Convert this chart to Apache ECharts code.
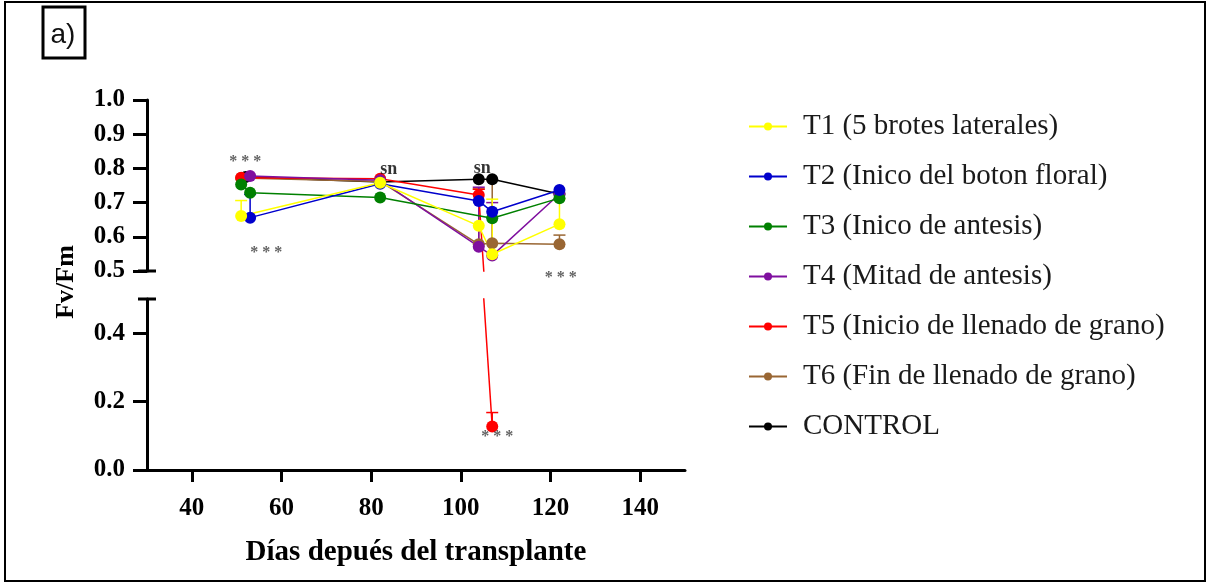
<!DOCTYPE html>
<html>
<head>
<meta charset="utf-8">
<script src="https://cdn.jsdelivr.net/npm/echarts@6/dist/echarts.min.js"></script>
<style>
  html, body { margin: 0; padding: 0; background: #fff; }
  #chart { width: 1209px; height: 585px; }
</style>
</head>
<body>
<div id="chart"></div>
<script>
// Axis ticks
const dayTicks = [40, 60, 80, 100, 120, 140];
const upperTicks = [0.5, 0.6, 0.7, 0.8, 0.9, 1.0];
const lowerTicks = [0, 0.2, 0.4];

// Treatments (legend order)
const names = [
  'T1 (5 brotes laterales)',
  'T2 (Inico del boton floral)',
  'T3 (Inico de antesis)',
  'T4 (Mitad de antesis)',
  'T5 (Inicio de llenado de grano)',
  'T6 (Fin de llenado de grano)',
  'CONTROL'
];
const colors = ['#ffff00', '#0000cc', '#008000', '#7f0f9f', '#ff0000', '#996633', '#000000'];

// Fv/Fm per treatment: measurement day and mean value
const t1Days = [51, 82, 104, 107, 122];
const t1Values = [0.661, 0.758, 0.632, 0.549, 0.637];
const t2Days = [53, 82, 104, 107, 122];
const t2Values = [0.656, 0.755, 0.705, 0.673, 0.737];
const t3Days = [51, 53, 82, 107, 122];
const t3Values = [0.753, 0.729, 0.715, 0.654, 0.713];
const t4Days = [53, 82, 104, 107, 122];
const t4Values = [0.778, 0.765, 0.571, 0.545, 0.725];
const t5Days = [51, 82, 104, 107];
const t5Values = [0.773, 0.770, 0.722, 0.127];
const t6Days = [51, 82, 104, 107, 122];
const t6Values = [0.772, 0.762, 0.578, 0.581, 0.578];
const ctrlDays = [52, 82, 104, 107, 122];
const ctrlValues = [0.775, 0.760, 0.768, 0.768, 0.725];

// Upper end of the error bars (day, top value)
const t1ErrDays = [51, 107, 122];
const t1ErrTops = [0.706, 0.710, 0.710];
const t2ErrDays = [53];
const t2ErrTops = [0.724];
const t4ErrDays = [104, 107];
const t4ErrTops = [0.745, 0.700];
const t5ErrDays = [104, 107];
const t5ErrTops = [0.739, 0.168];
const t6ErrDays = [104, 107, 122];
const t6ErrTops = [0.740, 0.765, 0.605];

// Significance labels: day, value, text
const noteDays = [51.9, 56.6, 83.9, 104.8, 122.3];
const noteValues = [0.819, 0.552, 0.798, 0.800, 0.479];
const noteTexts = ['* * *', '* * *', 'sn', 'sn', '* * *'];
const lowNoteDays = [108.1];
const lowNoteValues = [0.096];
const lowNoteTexts = ['* * *'];

const dayLists = [t1Days, t2Days, t3Days, t4Days, t5Days, t6Days, ctrlDays];
const valueLists = [t1Values, t2Values, t3Values, t4Values, t5Values, t6Values, ctrlValues];
const errDayLists = [t1ErrDays, t2ErrDays, [], t4ErrDays, t5ErrDays, t6ErrDays, []];
const errTopLists = [t1ErrTops, t2ErrTops, [], t4ErrTops, t5ErrTops, t6ErrTops, []];

const SERIF = '"Liberation Serif", "Times New Roman", serif';

function pairs(xs, ys) { return xs.map((x, i) => [x, ys[i]]); }

function errorBars(i, gridIdx) {
  const data = errDayLists[i].map((d, k) => [d, valueLists[i][dayLists[i].indexOf(d)], errTopLists[i][k]]);
  return {
    type: 'custom',
    name: 'err' + i + '_' + gridIdx,
    xAxisIndex: gridIdx, yAxisIndex: gridIdx,
    clip: true,
    z: 2,
    data: data,
    renderItem: function (params, api) {
      const p0 = api.coord([api.value(0), api.value(1)]);
      const p1 = api.coord([api.value(0), api.value(2)]);
      const st = { stroke: colors[i], lineWidth: 1.5 };
      return {
        type: 'group',
        children: [
          { type: 'line', shape: { x1: p0[0], y1: p0[1], x2: p1[0], y2: p1[1] }, style: st },
          { type: 'line', shape: { x1: p1[0] - 6, y1: p1[1], x2: p1[0] + 6, y2: p1[1] }, style: st }
        ]
      };
    }
  };
}

function lineSeries(i, gridIdx) {
  return {
    type: 'line',
    name: names[i],
    xAxisIndex: gridIdx, yAxisIndex: gridIdx,
    data: pairs(dayLists[i], valueLists[i]),
    symbol: 'circle',
    symbolSize: 12,
    showAllSymbol: true,
    clip: true,
    z: 3,
    color: colors[i],
    lineStyle: { width: 1.5, color: colors[i] },
    itemStyle: { color: colors[i] },
    emphasis: { disabled: true },
    animation: false
  };
}

const series = [];
// Draw CONTROL first so T1 ends on top
for (let i = names.length - 1; i >= 0; i--) {
  if (errDayLists[i].length) series.push(errorBars(i, 0));
}
for (let i = names.length - 1; i >= 0; i--) {
  series.push(lineSeries(i, 0));
}
// T5 drops below the axis break: repeat it on the lower panel
series.push(errorBars(4, 1));
series.push(lineSeries(4, 1));

function notes(xs, ys, texts, gridIdx) {
  return {
    type: 'scatter',
    name: 'notes' + gridIdx,
    xAxisIndex: gridIdx, yAxisIndex: gridIdx,
    clip: false,
    symbolSize: 0,
    z: 5,
    silent: true,
    data: xs.map((x, k) => ({ value: [x, ys[k]], label: { formatter: texts[k] } })),
    label: {
      show: true, position: 'inside',
      fontFamily: SERIF, fontSize: 16, fontWeight: 'bold', color: '#3a3a3a'
    }
  };
}
const upperNotes = notes(noteDays, noteValues, noteTexts, 0);
upperNotes.data.forEach(d => {
  if (d.label.formatter === 'sn') {
    d.label.color = '#000'; d.label.fontSize = 18;
  }
});
series.push(upperNotes);
series.push(notes(lowNoteDays, lowNoteValues, lowNoteTexts, 1));

const axisLineStyle = { color: '#000', width: 3 };
const yLabel = { fontFamily: SERIF, fontWeight: 'bold', fontSize: 25, color: '#000', margin: 22 };

const option = {
  animation: false,
  backgroundColor: '#fff',
  grid: [
    { left: 147, width: 538, top: 100, height: 171 },
    { left: 147, width: 538, top: 299, height: 171 }
  ],
  xAxis: [
    { type: 'value', gridIndex: 0, min: 30, max: 150, show: false },
    {
      type: 'value', gridIndex: 1, min: 30, max: 150,
      name: 'Días depués del transplante',
      nameLocation: 'middle', nameGap: 68,
      nameTextStyle: { fontFamily: SERIF, fontWeight: 'bold', fontSize: 29, color: '#000' },
      axisLine: { show: true, lineStyle: axisLineStyle },
      axisTick: { show: true, length: 12, lineStyle: axisLineStyle, customValues: dayTicks },
      axisLabel: { fontFamily: SERIF, fontWeight: 'bold', fontSize: 25, color: '#000', margin: 26, customValues: dayTicks },
      splitLine: { show: false }
    }
  ],
  yAxis: [
    {
      type: 'value', gridIndex: 0, min: 0.5, max: 1.0,
      axisLine: { show: true, lineStyle: axisLineStyle },
      axisTick: { show: true, length: 14, lineStyle: axisLineStyle, customValues: upperTicks },
      axisLabel: Object.assign({ customValues: upperTicks, formatter: v => v.toFixed(1) }, yLabel),
      splitLine: { show: false }
    },
    {
      type: 'value', gridIndex: 1, min: 0, max: 0.5,
      axisLine: { show: true, lineStyle: axisLineStyle },
      axisTick: { show: true, length: 14, lineStyle: axisLineStyle, customValues: lowerTicks },
      axisLabel: Object.assign({ customValues: lowerTicks, formatter: v => v.toFixed(1) }, yLabel),
      splitLine: { show: false }
    }
  ],
  legend: {
    data: names,
    orient: 'vertical',
    left: 743, top: 107,
    itemWidth: 38, itemHeight: 10,
    itemGap: 21,
    selectedMode: false,
    textStyle: { fontFamily: SERIF, fontSize: 29, color: '#1a1a1a', lineHeight: 29, padding: [0, 0, 0, 11] }
  },
  series: series
};

const chart = echarts.init(document.getElementById('chart'), null, { renderer: 'canvas' });
chart.setOption(option);

// Frame, panel tag, y title and break caps
const capUpper = chart.convertToPixel({ gridIndex: 0 }, [30, 0.5]);
const capLower = chart.convertToPixel({ gridIndex: 1 }, [30, 0.5]);
const capStyle = { stroke: '#000', lineWidth: 3 };
chart.setOption({
  graphic: [
    { type: 'rect', shape: { x: 5, y: 2, width: 1200, height: 579 }, style: { fill: 'none', stroke: '#000', lineWidth: 2 }, z: 10 },
    { type: 'rect', shape: { x: 43, y: 7, width: 42, height: 51 }, style: { fill: '#fff', stroke: '#000', lineWidth: 3 }, z: 10 },
    { type: 'text', x: 63, y: 35, style: { text: 'a)', font: '28px "Liberation Sans", Arial, sans-serif', fill: '#111', textAlign: 'center', textVerticalAlign: 'middle' }, z: 11 },
    { type: 'text', x: 66, y: 282, rotation: Math.PI / 2, style: { text: 'Fv/Fm', font: 'bold 26px ' + SERIF, fill: '#000', textAlign: 'center', textVerticalAlign: 'middle' }, z: 11 },
    { type: 'line', shape: { x1: capUpper[0] - 9, y1: capUpper[1], x2: capUpper[0] + 9, y2: capUpper[1] }, style: capStyle, z: 10 },
    { type: 'line', shape: { x1: capLower[0] - 9, y1: capLower[1], x2: capLower[0] + 9, y2: capLower[1] }, style: capStyle, z: 10 }
  ]
});
</script>
</body>
</html>
